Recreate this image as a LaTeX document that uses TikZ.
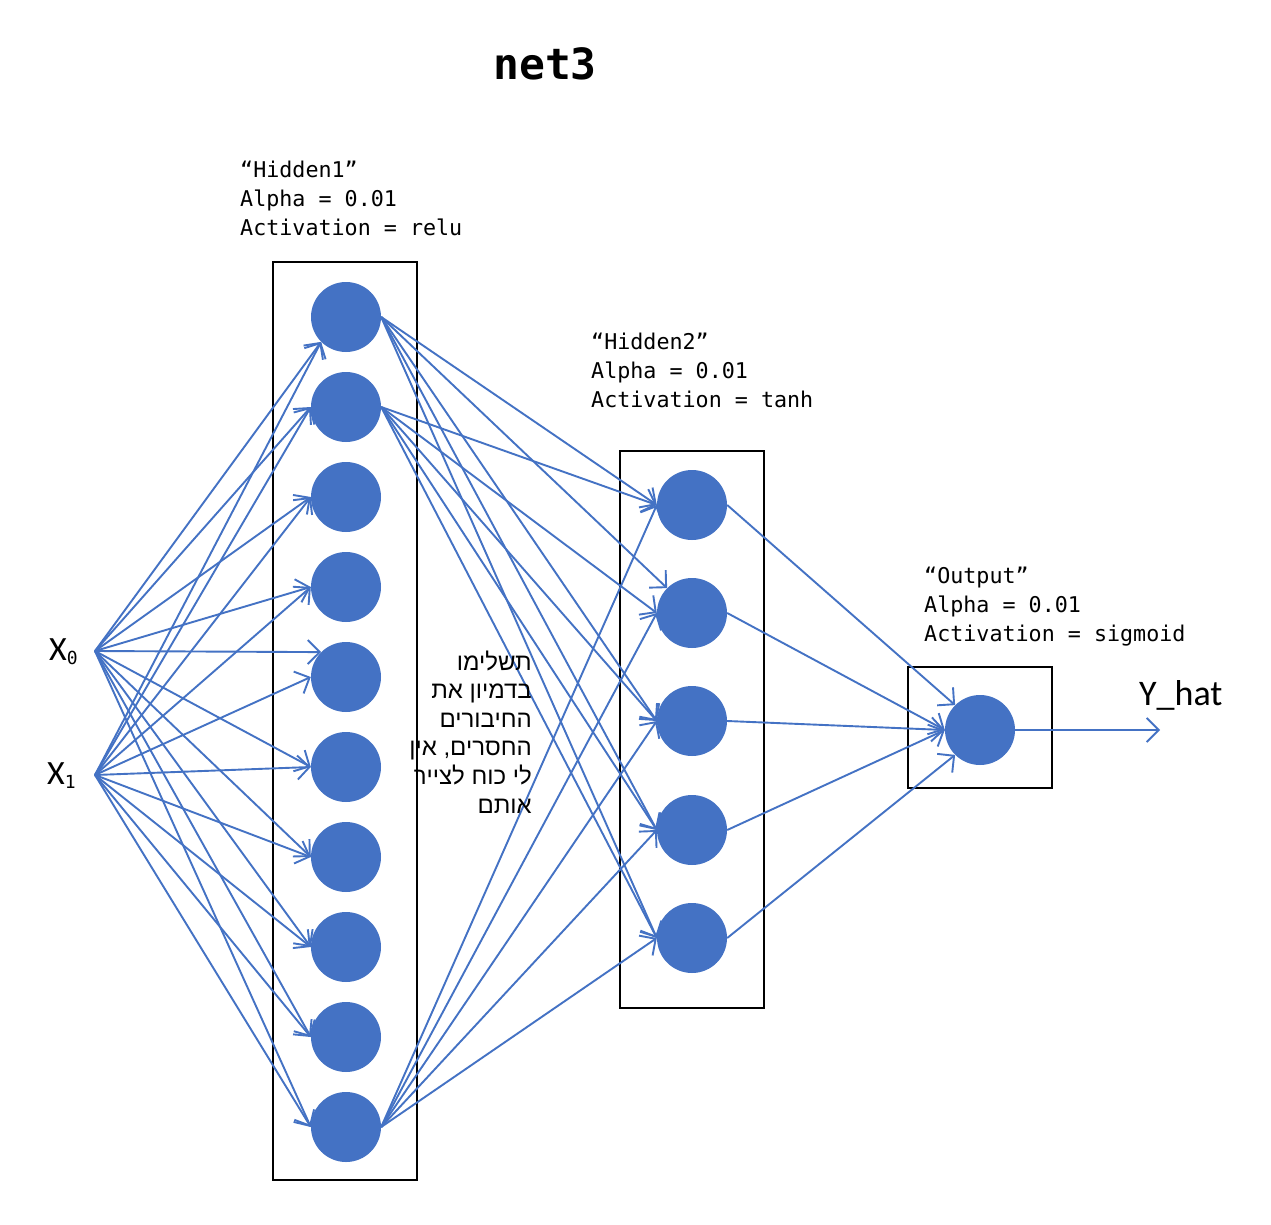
\documentclass[tikz,border=0pt]{standalone}
\usepackage{fontspec}
\usetikzlibrary{arrows.meta}
\newfontfamily\monofont{DejaVu Sans Mono}
\newfontfamily\hebfont[Script=Hebrew]{Liberation Sans}
\newfontfamily\labfont{Carlito}
\TeXXeTstate=1
\definecolor{nodeblue}{HTML}{4472C4}
\tikzset{
  neuron/.style={circle, fill=nodeblue, draw=none, minimum size=70pt, inner sep=0pt},
  layerbox/.style={draw=black, line width=2pt, minimum width=144pt, inner sep=0pt},
  conn/.style={draw=nodeblue, line width=1.9pt, -{Straight Barb[length=12pt,width=24pt]}},
  monotext/.style={anchor=base west, inner sep=0pt, font=\monofont\fontsize{21.7}{29}\selectfont},
  hebtext/.style={anchor=base east, inner sep=0pt, font=\hebfont\fontsize{24}{28.6}\selectfont},
  labtext/.style={anchor=base west, inner sep=0pt}
}
\begin{document}
\begin{tikzpicture}[x=1pt,y=-1pt]
\useasboundingbox[fill=white] (0,0) rectangle (1271,1225);

% title
\node[anchor=base, inner sep=0pt, font=\monofont\bfseries\fontsize{43}{43}\selectfont] (title) at (545,80) {net3};

% layer captions
\node[monotext] (h1cap1) at (240,178) {“Hidden1”};
\node[monotext] (h1cap2) at (240,207) {Alpha = 0.01};
\node[monotext] (h1cap3) at (240,236) {Activation = relu};
\node[monotext] (h2cap1) at (591,349) {“Hidden2”};
\node[monotext] (h2cap2) at (591,378) {Alpha = 0.01};
\node[monotext] (h2cap3) at (591,407) {Activation = tanh};
\node[monotext] (ocap1) at (924,583) {“Output”};
\node[monotext] (ocap2) at (924,612) {Alpha = 0.01};
\node[monotext] (ocap3) at (924,641) {Activation = sigmoid};

% boxes
\node[layerbox, minimum height=918pt] (box1) at (345,721) {};
\node[layerbox, minimum height=557pt] (box2) at (692,729.5) {};
\node[layerbox, minimum height=121pt] (box3) at (980,727.5) {};

% neurons
\foreach \i in {1,...,10} {
  \node[neuron] (h\i) at (346,{317+90*(\i-1)}) {};
}
\foreach \i/\y in {1/505,2/613,3/721,4/830,5/938} {
  \node[neuron] (g\i) at (692,\y) {};
}
\node[neuron] (o) at (980,730) {};

% inputs
\coordinate (x0) at (95,651);
\coordinate (x1) at (95,775);
\node[labtext] (x0lab) at (49,660) {\labfont\fontsize{34}{34}\selectfont X\raisebox{-4pt}{\monofont\fontsize{18}{18}\selectfont 0}};
\node[labtext] (x1lab) at (47,784) {\labfont\fontsize{34}{34}\selectfont X\raisebox{-4pt}{\monofont\fontsize{18}{18}\selectfont 1}};

% input -> hidden1
\foreach \s in {x0,x1} {
  \foreach \i/\a in {1/south west,2/west,3/west,4/west,6/west,7/west,8/west,9/west,10/west} {
    \draw[conn] (\s) -- (h\i.\a);
  }
}
\draw[conn] (x0) -- (h5.north west);
\draw[conn] (x1) -- (h5.west);

% hidden1 -> hidden2
\foreach \s in {1,2,10} {
  \foreach \t in {1,3,4,5} {
    \draw[conn] (h\s.east) -- (g\t.west);
  }
}
\draw[conn] (h1.east) -- (g2.north west);
\draw[conn] (h2.east) -- (g2.west);
\draw[conn] (h10.east) -- (g2.west);

% hidden2 -> output
\draw[conn] (g1.east) -- (o.north west);
\draw[conn] (g2.east) -- (o.west);
\draw[conn] (g3.east) -- (o.west);
\draw[conn] (g4.east) -- (o.west);
\draw[conn] (g5.east) -- (o.south west);

% output
\coordinate (yend) at (1160,730);
\draw[conn] (o.east) -- (yend);
\node[labtext] (ylab) at (1139,705) {\labfont\fontsize{36}{36}\selectfont Y\_hat};

% hebrew note
\node[hebtext] (heb1) at (532,670) {\beginR תשלימו\endR};
\node[hebtext] (heb2) at (532,698.6) {\beginR בדמיון את\endR};
\node[hebtext] (heb3) at (532,727.2) {\beginR החיבורים\endR};
\node[hebtext] (heb4) at (532,755.8) {\beginR החסרים, אין\endR};
\node[hebtext] (heb5) at (532,784.4) {\beginR לי כוח לצייר\endR};
\node[hebtext] (heb6) at (532,813) {\beginR אותם\endR};
\end{tikzpicture}
\end{document}
